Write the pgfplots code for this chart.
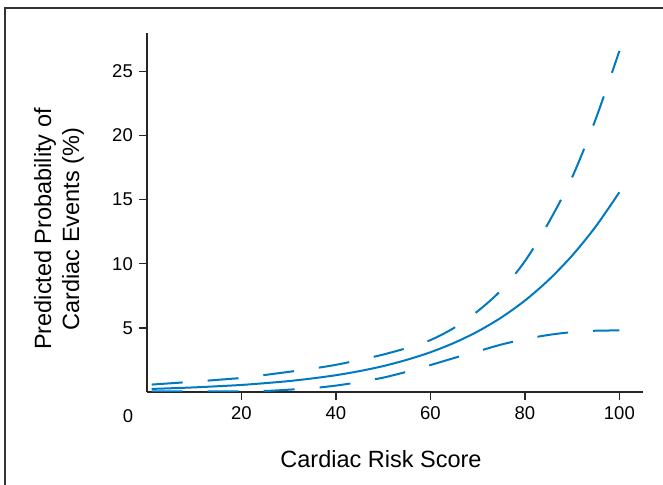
\documentclass[border=0pt]{standalone}
\usepackage{fontspec}
\setmainfont{Liberation Sans}
\usepackage{pgfplots}
\pgfplotsset{compat=1.18}
\definecolor{curve}{RGB}{0,121,193}
\begin{document}
\begin{tikzpicture}[x=1bp,y=1bp]
\useasboundingbox (-147,-93) rectangle (516,392);
\draw[line width=1.6bp, black!80] (-142,-93) -- (-142,384) -- (516,384);
\begin{axis}[
  at={(0,0)}, anchor=south west,
  scale only axis, width=496bp, height=359bp,
  xmin=0, xmax=105, ymin=0, ymax=28,
  axis x line=bottom, axis y line=left,
  axis line style={-, line width=2.2bp, black!85},
  xtick={20,40,60,80,100}, ytick={5,10,15,20,25},
  tick align=outside, major tick length=8bp,
  tick style={line width=1.4bp, black!85},
  /pgf/number format/assume math mode=true,
  tick label style={font=\fontsize{18.5bp}{21bp}\selectfont},
  xticklabel style={anchor=base, yshift=-19bp},
  yticklabel style={anchor=east, inner sep=0pt, xshift=-6bp},
]
\addplot[curve, line width=2bp, smooth] coordinates {
(1,0.24) (5,0.29) (10,0.36) (15,0.45) (20,0.55) (25,0.69) (30,0.85) (35,1.06) (40,1.31) (45,1.63) (50,2.02) (55,2.51) (60,3.10) (65,3.83) (70,4.72) (75,5.81) (80,7.13) (85,8.73) (90,10.64) (95,12.91) (100,15.58)};
\addplot[curve, line width=2bp, smooth, dash pattern=on 31bp off 25bp] coordinates {
(1,0.58) (5,0.68) (10,0.81) (15,0.95) (20,1.10) (25,1.33) (30,1.57) (35,1.82) (40,2.12) (45,2.5) (50,2.92) (55,3.43) (60,4.05) (65,5.0) (70,6.3) (75,7.95) (80,10.2) (85,13.2) (90,16.75) (95,21.3) (100,26.6)};
\addplot[curve, line width=2bp, smooth, dash pattern=on 31bp off 25bp] coordinates {
(1,0.05) (5,0.05) (10,0.05) (15,0.05) (20,0.06) (25,0.08) (30,0.18) (35,0.3) (40,0.5) (45,0.78) (50,1.12) (55,1.58) (60,2.1) (65,2.65) (70,3.17) (75,3.7) (80,4.12) (85,4.45) (90,4.67) (95,4.78) (100,4.8)};
\end{axis}
\node[anchor=base, font=\fontsize{18.5bp}{21bp}\selectfont, inner sep=0pt] at (-19,-31) {0};
\node[anchor=base, font=\fontsize{23.5bp}{28bp}\selectfont, inner sep=0pt] at (234,-76) {Cardiac Risk Score};
\node[rotate=90, align=center, font=\fontsize{23.5bp}{28bp}\selectfont, inner sep=0pt] at (-88,163) {Predicted Probability of\\Cardiac Events (\%)};
\end{tikzpicture}
\end{document}
